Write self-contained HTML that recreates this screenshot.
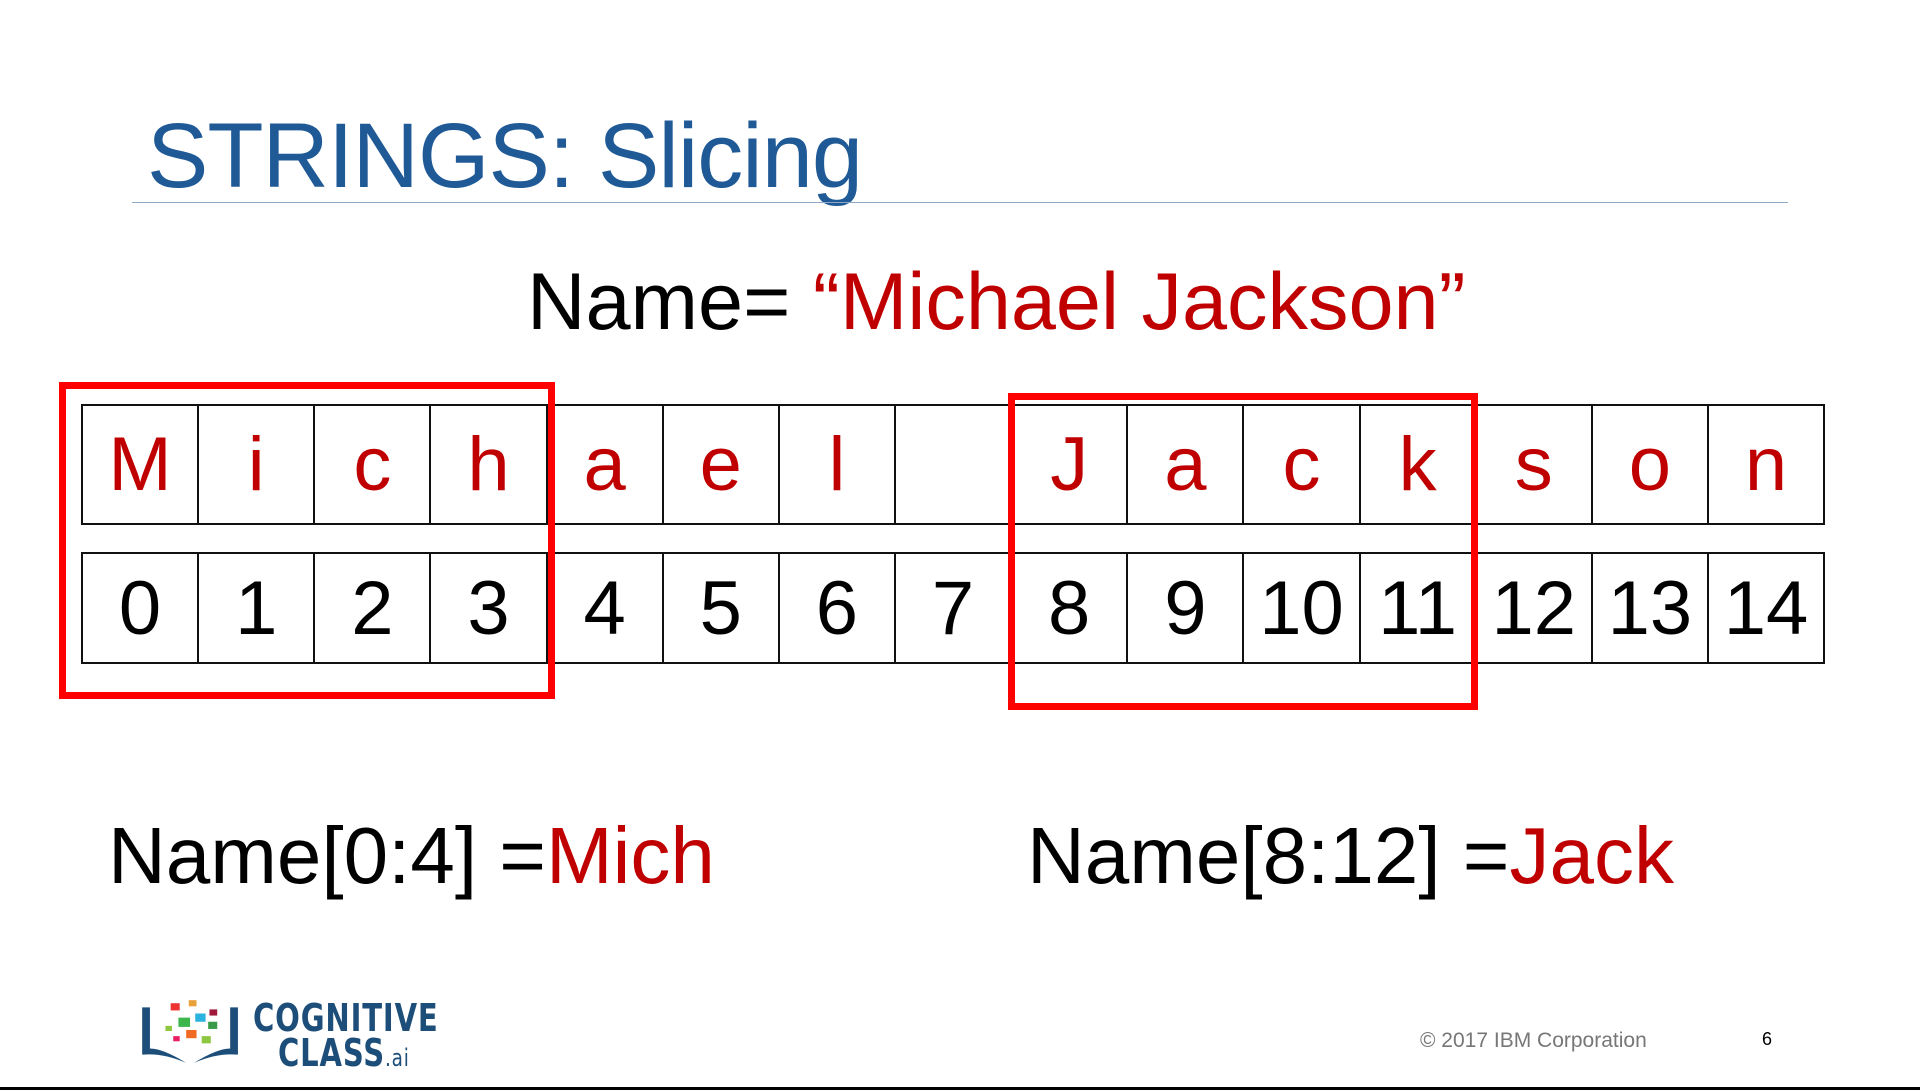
<!DOCTYPE html>
<html><head><meta charset="utf-8"><style>
*{margin:0;padding:0;box-sizing:border-box}
body{width:1920px;height:1090px;background:#fff;position:relative;overflow:hidden;font-family:"Liberation Sans",sans-serif}
.abs{position:absolute;white-space:nowrap}
.row{position:absolute;left:81px;width:1744px;display:flex;border:2px solid #111;border-right:none}
.row div{flex:1;border-right:2px solid #111;display:flex;align-items:center;justify-content:center;font-size:76px}
.r1 div{color:#c00000}
.red{position:absolute;border:7px solid #f00}
</style></head><body>
<div class="abs" style="left:147px;top:104px;font-size:92px;color:#1f5a96;letter-spacing:-1px">STRINGS: Slicing</div>
<div class="abs" style="left:132px;top:202px;width:1656px;height:1px;background:#8fa9c8"></div>
<div class="abs" style="left:527px;top:256px;font-size:81px;color:#000">Name= <span style="color:#c00000">“Michael Jackson”</span></div>
<div class="row r1" style="top:404px;height:121px"><div>M</div><div>i</div><div>c</div><div>h</div><div>a</div><div>e</div><div>l</div><div></div><div>J</div><div>a</div><div>c</div><div>k</div><div>s</div><div>o</div><div>n</div></div>
<div class="row" style="top:552px;height:112px"><div>0</div><div>1</div><div>2</div><div>3</div><div>4</div><div>5</div><div>6</div><div>7</div><div>8</div><div>9</div><div>10</div><div>11</div><div>12</div><div>13</div><div>14</div></div>
<div class="red" style="left:59px;top:382px;width:496px;height:317px"></div>
<div class="red" style="left:1008px;top:393px;width:470px;height:317px"></div>
<div class="abs" style="left:108px;top:810px;font-size:80px;color:#000">Name[0:4] =<span style="color:#c00000">Mich</span></div>
<div class="abs" style="left:1027px;top:810px;font-size:80px;color:#000">Name[8:12] =<span style="color:#c00000">Jack</span></div>
<svg class="abs" style="left:137px;top:995px" width="110" height="72" viewBox="0 0 85 70" preserveAspectRatio="none">
<path d="M4 12 V58 Q20 56 38 66 Q20 52 10 52 V12Z" fill="#1d4e7a"/>
<path d="M78 12 V58 Q62 56 44 66 Q62 52 72 52 V12Z" fill="#1d4e7a"/>
<rect x="26" y="8" width="7" height="7" fill="#e33"/><rect x="40" y="5" width="6" height="6" fill="#e9a23b"/>
<rect x="45" y="18" width="8" height="8" fill="#2bb3e0"/><rect x="56" y="14" width="6" height="6" fill="#a0183c"/>
<rect x="32" y="22" width="9" height="9" fill="#3cb54a"/><rect x="55" y="26" width="7" height="7" fill="#3a9a4a"/>
<rect x="38" y="34" width="8" height="8" fill="#f26a21"/><rect x="50" y="40" width="7" height="7" fill="#8dc63f"/>
<rect x="28" y="40" width="5" height="5" fill="#e91e63"/><rect x="22" y="30" width="5" height="5" fill="#8dc63f"/>
</svg>
<div class="abs" style="left:253px;top:996px;font-size:38px;font-weight:bold;color:#1d4e7a;font-family:'DejaVu Sans Condensed',sans-serif;letter-spacing:1px;transform:scaleX(0.85);transform-origin:left">COGNITIVE</div>
<div class="abs" style="left:278px;top:1031px;font-size:38px;font-weight:bold;color:#1d4e7a;font-family:'DejaVu Sans Condensed',sans-serif;letter-spacing:1px;transform:scaleX(0.85);transform-origin:left">CLASS<span style="font-size:24px;font-weight:normal">.ai</span></div>
<div class="abs" style="left:1420px;top:1029px;font-size:21px;color:#777">© 2017 IBM Corporation</div>
<div class="abs" style="left:1762px;top:1029px;font-size:18px;color:#000">6</div>
<div class="abs" style="left:0;top:1087px;width:1920px;height:3px;background:#000"></div>
</body></html>
